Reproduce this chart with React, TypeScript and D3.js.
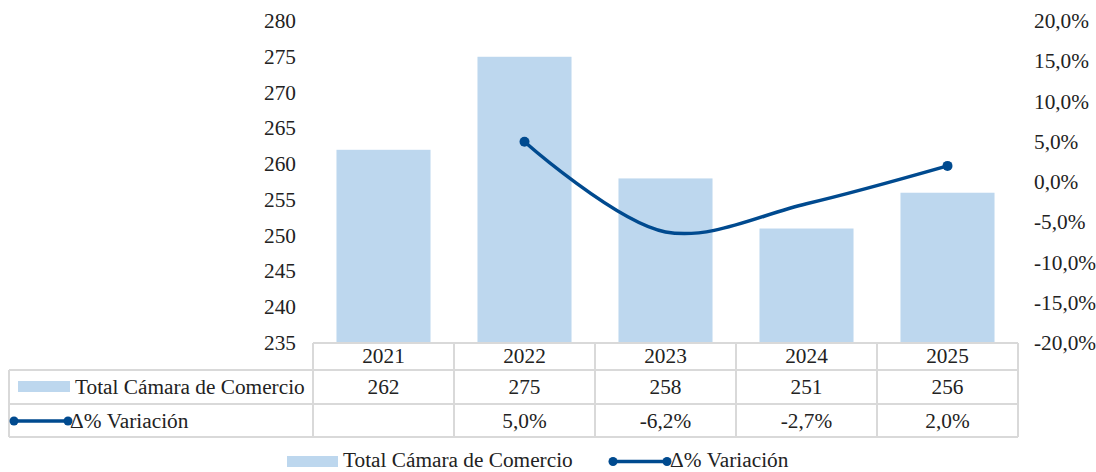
import React from 'react';
import * as d3 from 'd3';

const years = ['2021', '2022', '2023', '2024', '2025'];
const totals = [262, 275, 258, 251, 256];
const variation: (number | null)[] = [null, 5.0, -6.2, -2.7, 2.0];
const leftTicks = [235, 240, 245, 250, 255, 260, 265, 270, 275, 280];
const rightTicks = [-20, -15, -10, -5, 0, 5, 10, 15, 20];
const barName = 'Total Cámara de Comercio';
const lineName = 'Δ% Variación';

const fmtPct = (v: number) => v.toFixed(1).replace('.', ',') + '%';

const W = 1096, H = 472;
const left = 313, right = 1018, top = 21, bottom = 343;
const font = 'Liberation Serif';
const fs = 21.3;
const barColor = '#BDD7EE';
const lineColor = '#004A8F';
const gridColor = '#D9D9D9';
const txt = '#222';

export default function App() {
  const x = d3.scaleBand().domain(years).range([left, right]).paddingInner(0.333).paddingOuter(0.1665);
  const band = d3.scaleBand().domain(years).range([left, right]);
  const y = d3.scaleLinear().domain([235, 280]).range([bottom, top]);
  const y2 = d3.scaleLinear().domain([-20, 20]).range([bottom, top]);
  const cx = (i: number) => band(years[i])! + band.bandwidth() / 2;

  const pts = variation
    .map((v, i) => ({ v, i }))
    .filter(p => p.v !== null) as { v: number; i: number }[];
  const line = d3.line<{ v: number; i: number }>()
    .x(p => cx(p.i))
    .y(p => y2(p.v))
    .curve(d3.curveCatmullRom.alpha(0.5));

  const rows = [343, 370, 404, 437];
  const tableLeft = 9;

  const T = (props: { x: number; y: number; anchor?: string; children: React.ReactNode }) => (
    <text x={props.x} y={props.y} textAnchor={props.anchor || 'middle'} fontFamily={font} fontSize={fs} fill={txt}>
      {props.children}
    </text>
  );

  const lineKey = (x1: number, x2: number, yy: number) => (
    <g>
      <line x1={x1} x2={x2} y1={yy} y2={yy} stroke={lineColor} strokeWidth={3.5} />
      <circle cx={x1} cy={yy} r={4.5} fill={lineColor} />
      <circle cx={x2} cy={yy} r={4.5} fill={lineColor} />
    </g>
  );

  return (
    <svg width={W} height={H} style={{ position: 'absolute', left: 0, top: 0 }} fontFamily={font}>
      {/* bars */}
      {totals.map((d, i) => (
        <rect key={years[i]} x={x(years[i])} width={x.bandwidth()} y={y(d)} height={bottom - y(d)} fill={barColor} />
      ))}

      {/* left axis */}
      {leftTicks.map(t => (
        <T key={t} x={296} y={y(t) + 7} anchor="end">{t}</T>
      ))}

      {/* right axis */}
      {rightTicks.map(t => (
        <T key={t} x={1034} y={y2(t) + 7} anchor="start">{fmtPct(t)}</T>
      ))}

      {/* line */}
      <path d={line(pts) || ''} fill="none" stroke={lineColor} strokeWidth={3.5} />
      {[pts[0], pts[pts.length - 1]].map(p => (
        <circle key={p.i} cx={cx(p.i)} cy={y2(p.v)} r={5} fill={lineColor} />
      ))}

      {/* data table grid */}
      <g stroke={gridColor} strokeWidth={2} fill="none">
        <line x1={left} x2={right} y1={rows[0]} y2={rows[0]} />
        {rows.slice(1).map(r => (
          <line key={r} x1={tableLeft} x2={right} y1={r} y2={r} />
        ))}
        <line x1={tableLeft} x2={tableLeft} y1={rows[1]} y2={rows[3]} />
        {years.map(yr => (
          <line key={yr} x1={band(yr)} x2={band(yr)} y1={rows[0]} y2={rows[3]} />
        ))}
        <line x1={right} x2={right} y1={rows[0]} y2={rows[3]} />
      </g>

      {/* table cells */}
      {years.map((yr, i) => (
        <g key={yr}>
          <T x={cx(i)} y={363}>{yr}</T>
          <T x={cx(i)} y={394}>{totals[i]}</T>
          {variation[i] !== null && <T x={cx(i)} y={428}>{fmtPct(variation[i] as number)}</T>}
        </g>
      ))}

      {/* row keys */}
      <rect x={18} y={381} width={52} height={11} fill={barColor} />
      <T x={75} y={394} anchor="start">{barName}</T>
      {lineKey(14, 68, 421)}
      <T x={70} y={428} anchor="start">{lineName}</T>

      {/* legend */}
      <rect x={287} y={456} width={51} height={11} fill={barColor} />
      <T x={343} y={467} anchor="start">{barName}</T>
      {lineKey(613, 667, 461.5)}
      <T x={670} y={467} anchor="start">{lineName}</T>
    </svg>
  );
}
